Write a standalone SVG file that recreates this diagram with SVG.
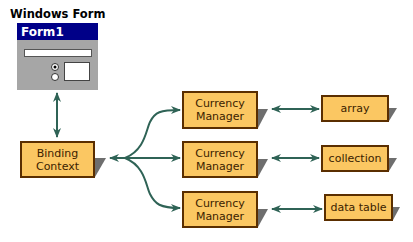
<svg xmlns="http://www.w3.org/2000/svg" width="413" height="242" viewBox="0 0 413 242">
<defs>
<style>
.box{fill:#fbc762;stroke:#5a2e00;stroke-width:2}
.sh{fill:#6e6e6e}
.t{font-family:"DejaVu Sans",Verdana,sans-serif;font-size:11px;fill:#3a2200;text-anchor:middle}
.c{fill:none;stroke:#2f6356;stroke-width:2}
</style>
<marker id="ah" viewBox="0 0 10 8" refX="9" refY="4" markerWidth="10" markerHeight="8" markerUnits="userSpaceOnUse" orient="auto-start-reverse">
<path d="M0,0 L10,4 L0,8 L3,4 z" fill="#2f6356"/>
</marker>
</defs>
<rect width="413" height="242" fill="#ffffff"/>
<g id="form">
<text x="10" y="18" font-family="DejaVu Sans,Verdana,sans-serif" font-size="11.5" font-weight="bold" fill="#000">Windows Form</text>
<rect x="17" y="23" width="81" height="67" fill="#a6a6a6"/>
<rect x="17" y="23" width="81" height="17" fill="#000088"/>
<text x="21" y="36" font-family="DejaVu Sans,Verdana,sans-serif" font-size="12" font-weight="bold" fill="#ffffff">Form1</text>
<rect x="24.5" y="49.5" width="67" height="7" fill="#ffffff" stroke="#555" stroke-width="1"/>
<circle cx="55" cy="67" r="3.5" fill="#ffffff" stroke="#333" stroke-width="1"/>
<circle cx="55" cy="67" r="1.5" fill="#000"/>
<circle cx="55" cy="77" r="3.5" fill="#ffffff" stroke="#333" stroke-width="1"/>
<rect x="64.5" y="62.5" width="25" height="18" fill="#ffffff" stroke="#444" stroke-width="1"/>
</g>
<g id="binding">
<path class="sh" d="M94,158 H106 L95,177 H94 Z"/>
<rect class="box" x="21" y="142" width="73" height="35"/>
<text class="t" x="57.5" y="157">Binding</text>
<text class="t" x="57.5" y="170">Context</text>
</g>
<g id="cm1">
<path class="sh" d="M257,109 H268 L258,128 H257 Z"/>
<rect class="box" x="183" y="92" width="74" height="36"/>
<text class="t" x="220" y="107">Currency</text>
<text class="t" x="220" y="120">Manager</text>
</g>
<g id="cm2">
<path class="sh" d="M257,159 H268 L258,177 H257 Z"/>
<rect class="box" x="183" y="142" width="74" height="35"/>
<text class="t" x="220" y="157">Currency</text>
<text class="t" x="220" y="170">Manager</text>
</g>
<g id="cm3">
<path class="sh" d="M257,209 H268 L258,227 H257 Z"/>
<rect class="box" x="183" y="192" width="74" height="35"/>
<text class="t" x="220" y="207">Currency</text>
<text class="t" x="220" y="220">Manager</text>
</g>
<g id="array">
<path class="sh" d="M388,108 H397 L389,121 H388 Z"/>
<rect class="box" x="322" y="96" width="66" height="25"/>
<text class="t" x="355" y="112">array</text>
</g>
<g id="collection">
<path class="sh" d="M388,158 H397 L389,171 H388 Z"/>
<rect class="box" x="322" y="146" width="66" height="25"/>
<text class="t" x="355" y="162">collection</text>
</g>
<g id="datatable">
<path class="sh" d="M392,207 H400 L393,220 H392 Z"/>
<rect class="box" x="325" y="195" width="67" height="25"/>
<text class="t" x="358.5" y="211">data table</text>
</g>
<g id="connectors">
<path class="c" d="M57,93 V137" marker-start="url(#ah)" marker-end="url(#ah)"/>
<path class="c" d="M110,158 H180" marker-start="url(#ah)" marker-end="url(#ah)"/>
<path class="c" d="M125,158 C145,150 146,130 150,122 C155,112 160,110 180,110" marker-end="url(#ah)"/>
<path class="c" d="M125,158 C145,166 146,186 150,194 C155,204 160,208 180,208" marker-end="url(#ah)"/>
<path class="c" d="M272,109 H319" marker-start="url(#ah)" marker-end="url(#ah)"/>
<path class="c" d="M272,158 H319" marker-start="url(#ah)" marker-end="url(#ah)"/>
<path class="c" d="M272,209 H322" marker-start="url(#ah)" marker-end="url(#ah)"/>
</g>
</svg>
